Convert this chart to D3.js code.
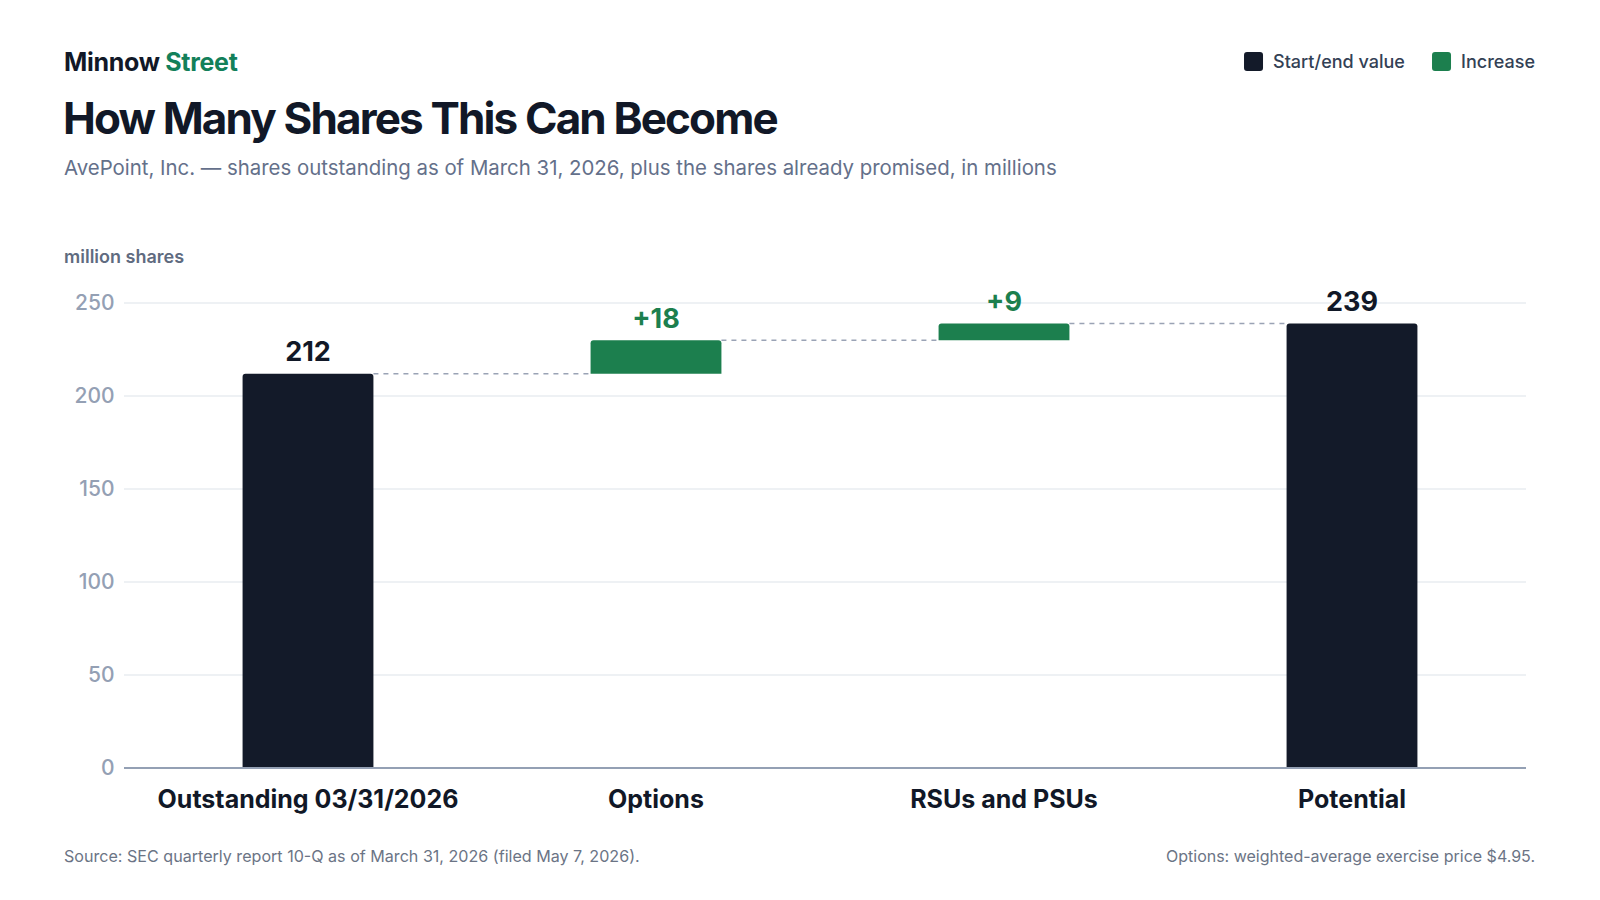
<!DOCTYPE html>
<html>
<head>
<meta charset="utf-8">
<script src="https://cdn.jsdelivr.net/npm/d3@7/dist/d3.min.js"></script>
<style>
  html, body { margin: 0; padding: 0; background: #ffffff; }
  svg { display: block; font-family: Inter, "Noto Sans", sans-serif; }
</style>
</head>
<body>
<svg id="chart" width="1600" height="900"></svg>
<script>
// ---- data ----
const categories = ["Outstanding 03/31/2026", "Options", "RSUs and PSUs", "Potential"];
const stepTypes = ["total", "increase", "increase", "total"];
const stepValues = [212, 18, 9, 239];
const valueLabels = ["212", "+18", "+9", "239"];
const yTicks = [0, 50, 100, 150, 200, 250];
const legendLabels = ["Start/end value", "Increase"];

// ---- styles ----
const DARK = "#131a29";
const GREEN = "#1c7f4e";
const svg = d3.select("#chart");

// build waterfall segments
let running = 0;
const segs = categories.map((c, i) => {
  let y0, y1;
  if (stepTypes[i] === "total") { y0 = 0; y1 = stepValues[i]; running = stepValues[i]; }
  else { y0 = running; y1 = running + stepValues[i]; running = y1; }
  return { cat: c, type: stepTypes[i], y0, y1, label: valueLabels[i] };
});

const plotLeft = 124, plotRight = 1526;
const x = d3.scaleBand().domain(categories).range([134, 1526]).paddingInner(0.624).paddingOuter(0.312);
const y = d3.scaleLinear().domain([0, 250]).range([768, 303]);

// header
const brand = svg.append("text").attr("x", 64).attr("y", 71).attr("font-size", 25).attr("font-weight", 700).attr("letter-spacing", "-0.3");
brand.append("tspan").attr("fill", "#111827").text("Minnow ");
brand.append("tspan").attr("fill", "#13805a").text("Street");

svg.append("text").attr("x", 63).attr("y", 134).attr("font-size", 44).attr("font-weight", 700)
  .attr("letter-spacing", "-1.85").attr("fill", "#111827").text("How Many Shares This Can Become");

svg.append("text").attr("x", 64).attr("y", 175).attr("font-size", 20.4).attr("fill", "#64708a")
  .text("AvePoint, Inc. — shares outstanding as of March 31, 2026, plus the shares already promised, in millions");

// legend
const legendColors = [DARK, GREEN];
const lg2 = svg.append("g");
const items = [{x: 1244, t: legendLabels[0], c: legendColors[0]}, {x: 1432, t: legendLabels[1], c: legendColors[1]}];
items.forEach(it => {
  lg2.append("rect").attr("x", it.x).attr("y", 52).attr("width", 19).attr("height", 19).attr("rx", 3).attr("fill", it.c);
  lg2.append("text").attr("x", it.x + 29).attr("y", 67.5).attr("font-size", 18).attr("font-weight", 500)
    .attr("fill", "#334155").text(it.t);
});

// axis title
svg.append("text").attr("x", 64).attr("y", 263).attr("font-size", 18).attr("font-weight", 600)
  .attr("fill", "#5f6b80").text("million shares");

// gridlines
svg.append("g").selectAll("line").data(yTicks.filter(t => t > 0)).join("line")
  .attr("x1", plotLeft).attr("x2", plotRight)
  .attr("y1", d => y(d)).attr("y2", d => y(d))
  .attr("stroke", "#e8ecf1").attr("stroke-width", 1.5);

// y axis labels via d3 axis
const yAxis = svg.append("g").attr("transform", `translate(${plotLeft},0)`)
  .call(d3.axisLeft(y).tickValues(yTicks).tickSize(0).tickPadding(9.5));
yAxis.select(".domain").remove();
yAxis.selectAll("text").attr("font-size", 21).attr("font-weight", 500).attr("fill", "#94a0b4").attr("font-family", "Inter, sans-serif");

// connectors
const conn = svg.append("g");
for (let i = 0; i < segs.length - 1; i++) {
  const v = segs[i].y1;
  conn.append("line")
    .attr("x1", x(segs[i].cat) + x.bandwidth()).attr("x2", x(segs[i + 1].cat))
    .attr("y1", y(v)).attr("y2", y(v))
    .attr("stroke", "#9aa3b5").attr("stroke-width", 1.6).attr("stroke-dasharray", "5,5");
}

// bars with rounded top corners
function topRounded(x0, yTop, w, h, r) {
  r = Math.min(r, h / 2, w / 2);
  return `M${x0},${yTop + h}V${yTop + r}Q${x0},${yTop} ${x0 + r},${yTop}H${x0 + w - r}Q${x0 + w},${yTop} ${x0 + w},${yTop + r}V${yTop + h}Z`;
}
svg.append("g").selectAll("path").data(segs).join("path")
  .attr("d", d => topRounded(x(d.cat), y(d.y1), x.bandwidth(), y(d.y0) - y(d.y1), 3))
  .attr("fill", d => d.type === "total" ? DARK : GREEN);

// value labels
svg.append("g").selectAll("text").data(segs).join("text")
  .attr("x", d => x(d.cat) + x.bandwidth() / 2)
  .attr("y", d => y(d.y1) - 12.5)
  .attr("text-anchor", "middle").attr("font-size", 27).attr("font-weight", 700)
  .attr("fill", d => d.type === "total" ? "#111827" : GREEN)
  .text(d => d.label);

// baseline
svg.append("line").attr("x1", plotLeft).attr("x2", plotRight).attr("y1", y(0)).attr("y2", y(0))
  .attr("stroke", "#94a0b4").attr("stroke-width", 2);

// x axis labels
const xAxis = svg.append("g").attr("transform", `translate(0,${y(0)})`)
  .call(d3.axisBottom(x).tickSize(0).tickPadding(22));
xAxis.select(".domain").remove();
xAxis.selectAll("text").attr("font-size", 25).attr("font-weight", 700).attr("fill", "#111827")
  .attr("font-family", "Inter, sans-serif").attr("letter-spacing", "0").attr("dy", "0.71em");

// footer
svg.append("text").attr("x", 64).attr("y", 862).attr("font-size", 16.1).attr("fill", "#6b7485")
  .text("Source: SEC quarterly report 10-Q as of March 31, 2026 (filed May 7, 2026).");
svg.append("text").attr("x", 1535).attr("y", 862).attr("text-anchor", "end").attr("font-size", 16).attr("fill", "#6b7485")
  .text("Options: weighted-average exercise price $4.95.");

// right-align legend to 1535
const bb = lg2.node().getBBox();
lg2.attr("transform", `translate(${1535 - (bb.x + bb.width)},0)`);
</script>
</body>
</html>
